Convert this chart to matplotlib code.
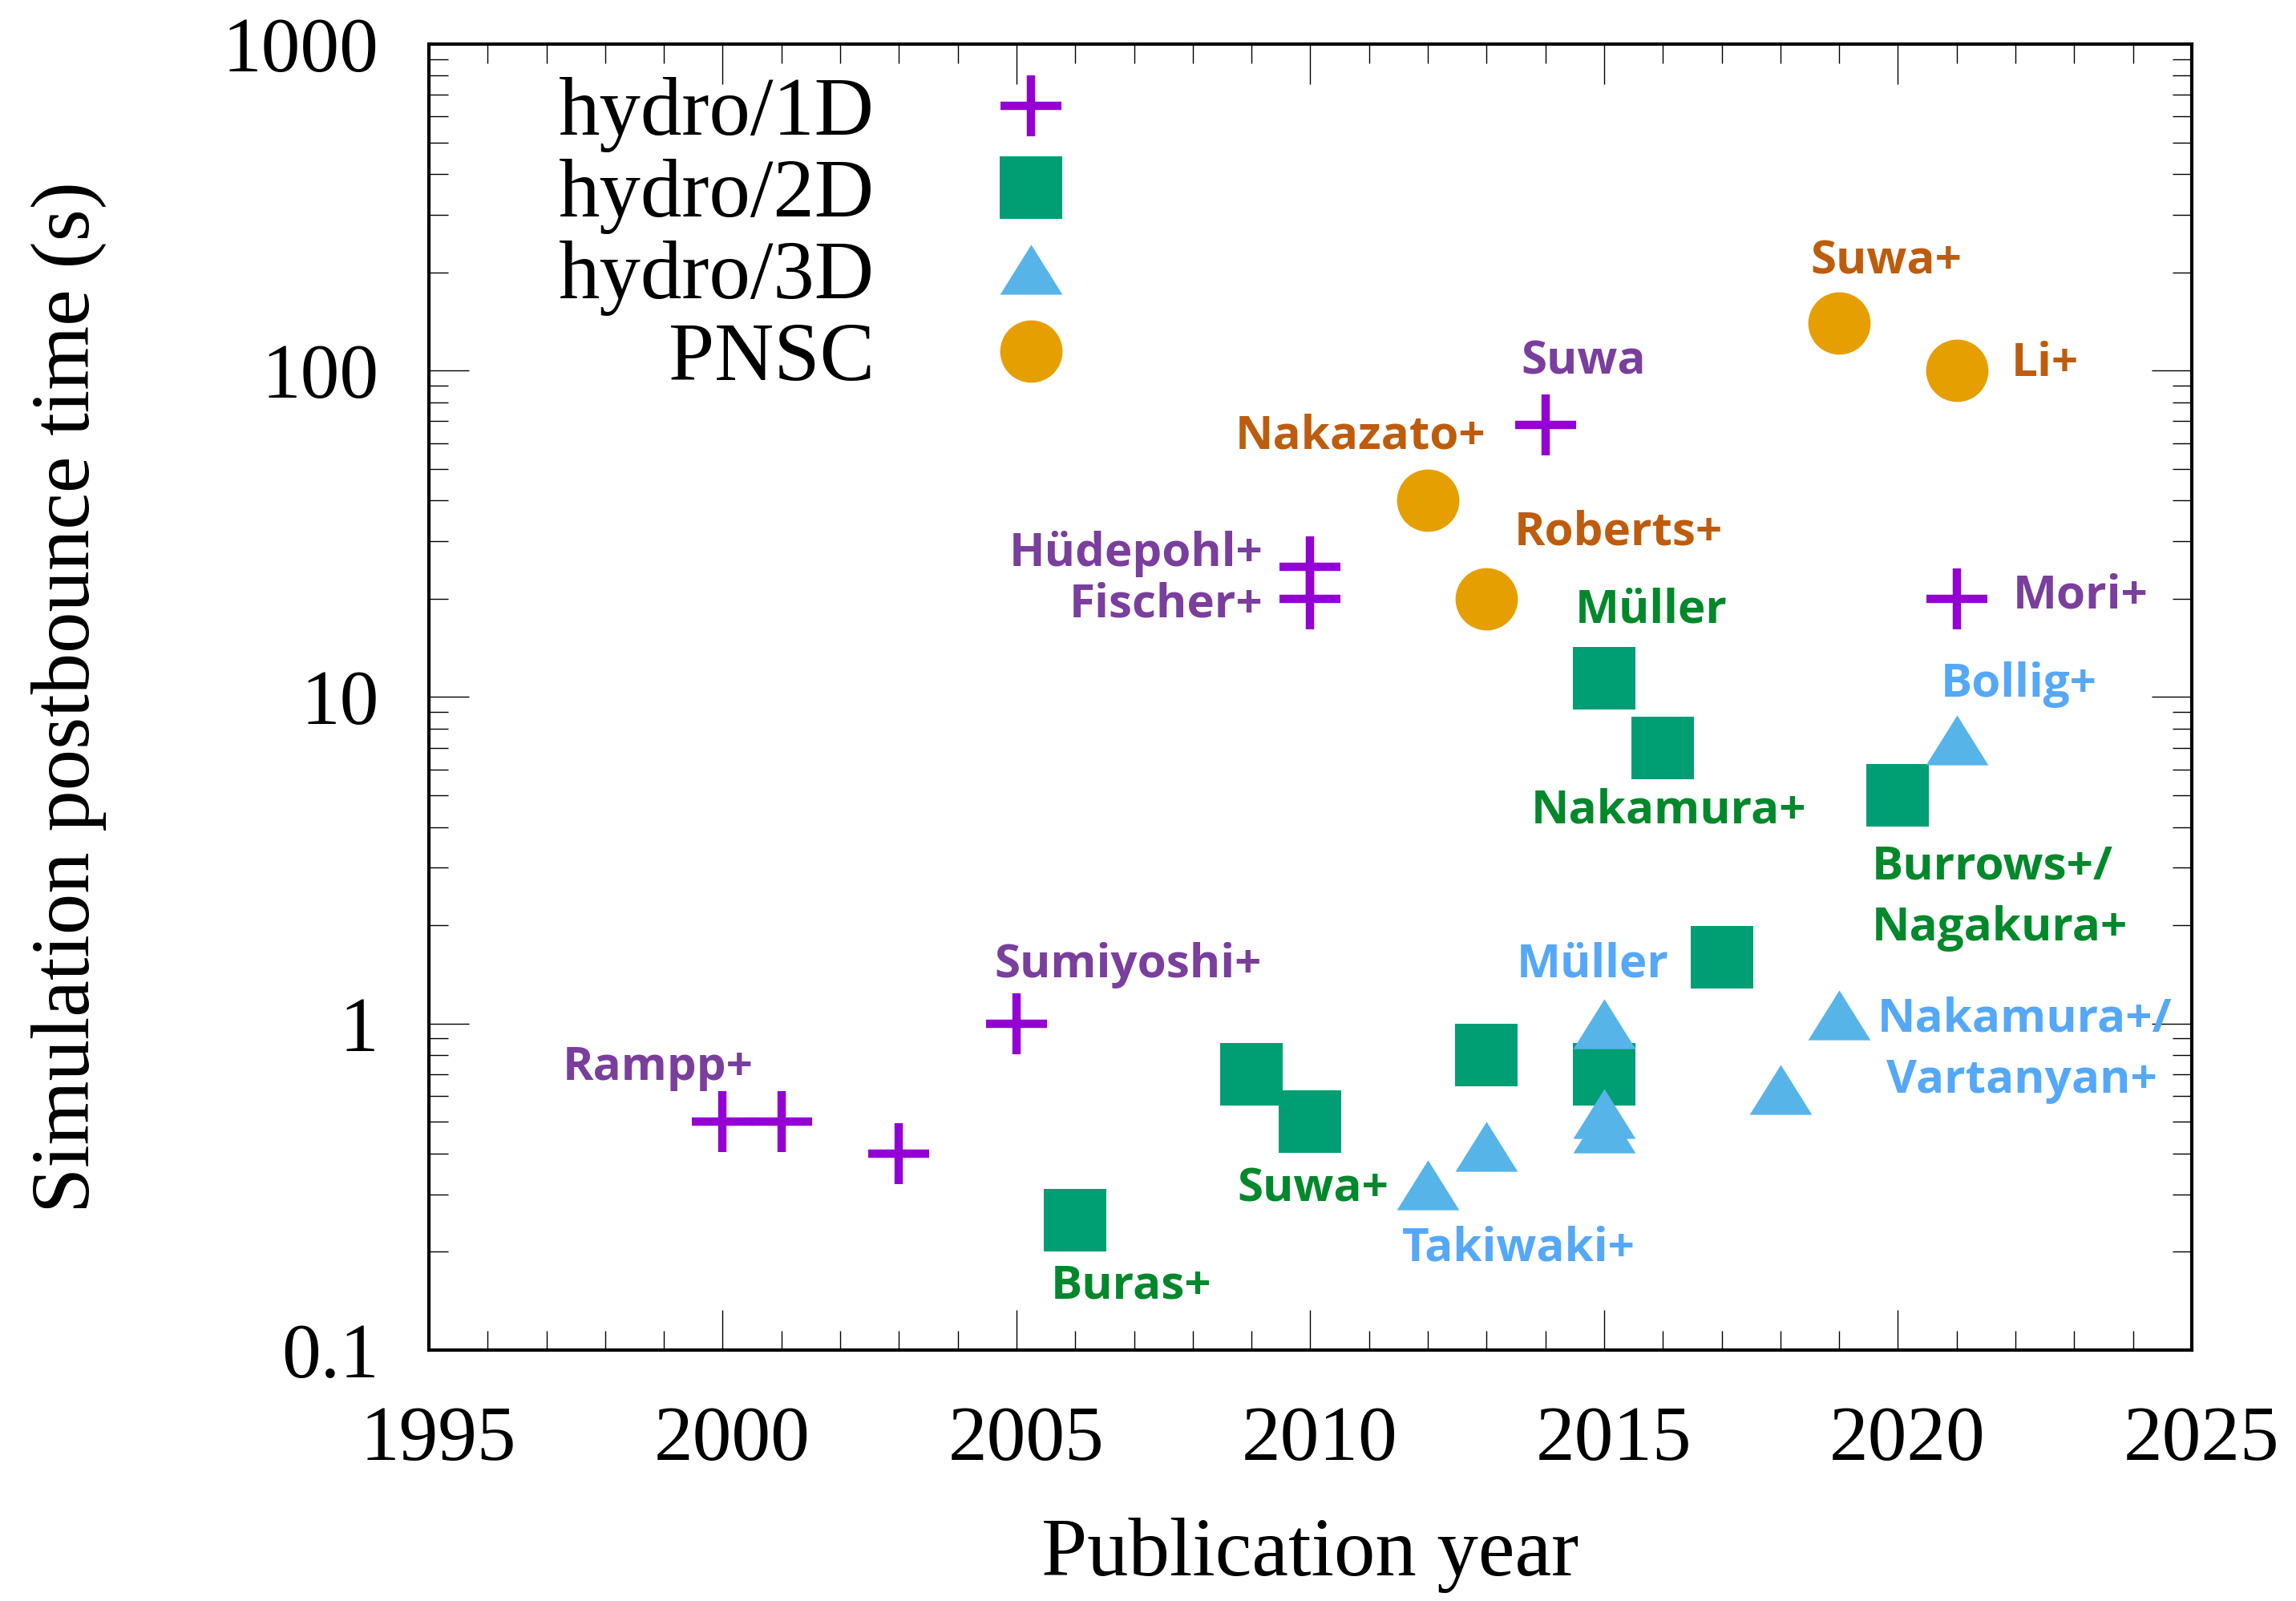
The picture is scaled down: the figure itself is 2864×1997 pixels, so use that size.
import matplotlib.pyplot as plt
from matplotlib.path import Path
from matplotlib.transforms import ScaledTranslation
from matplotlib.ticker import MultipleLocator, LogLocator, FixedLocator, FixedFormatter, NullFormatter

# data
hydro1d_year = [2000, 2001, 2003, 2005, 2010, 2010, 2014, 2021]
hydro1d_time = [0.5, 0.5, 0.4, 1.0, 25, 20, 68, 20]

hydro2d_year = [2006, 2009, 2010, 2013, 2015, 2015, 2016, 2017, 2020]
hydro2d_time = [0.25, 0.7, 0.5, 0.8, 0.7, 11.4, 7.0, 1.6, 5.0]

hydro3d_year = [2012, 2013, 2015, 2015, 2015, 2018, 2019, 2021]
hydro3d_time = [0.32, 0.42, 1.0, 0.53, 0.48, 0.63, 1.06, 7.4]

pnsc_year = [2012, 2013, 2019, 2021]
pnsc_time = [40, 20, 140, 100]

y_ticks = [0.1, 1, 10, 100, 1000]
y_tick_labels = ["0.1", "1", "10", "100", "1000"]

c_1d = "#9400D3"
c_2d = "#009E73"
c_3d = "#56B4E9"
c_pnsc = "#E69F00"
t_purple = "#7A3E9D"
t_orange = "#BE5C0E"
t_green = "#00882B"
t_blue = "#55A8F8"

# (text, x, y, colour, ha)
notes = [
    ("Rampp+", 1998.9, 0.73, t_purple, "center"),
    ("Sumiyoshi+", 2006.9, 1.51, t_purple, "center"),
    ("Hüdepohl+", 2009.2, 27.5, t_purple, "right"),
    ("Fischer+", 2009.2, 19.2, t_purple, "right"),
    ("Suwa", 2014.65, 106, t_purple, "center"),
    ("Mori+", 2023.1, 20.4, t_purple, "center"),
    ("Nakazato+", 2010.85, 62.8, t_orange, "center"),
    ("Roberts+", 2015.25, 31.8, t_orange, "center"),
    ("Suwa+", 2019.8, 215, t_orange, "center"),
    ("Li+", 2022.5, 105, t_orange, "center"),
    ("Müller", 2015.8, 18.4, t_green, "center"),
    ("Nakamura+", 2016.1, 4.47, t_green, "center"),
    ("Burrows+/", 2019.55, 3.02, t_green, "left"),
    ("Nagakura+", 2019.55, 1.96, t_green, "left"),
    ("Suwa+", 2010.05, 0.311, t_green, "center"),
    ("Buras+", 2006.95, 0.157, t_green, "center"),
    ("Bollig+", 2022.05, 10.9, t_blue, "center"),
    ("Müller", 2014.8, 1.51, t_blue, "center"),
    ("Nakamura+/", 2019.65, 1.03, t_blue, "left"),
    ("Vartanyan+", 2019.8, 0.668, t_blue, "left"),
    ("Takiwaki+", 2013.55, 0.204, t_blue, "center"),
]

serif = "Liberation Serif"
plt.rcParams["font.family"] = serif

fig = plt.figure(figsize=(28.64, 19.97), dpi=100)
ax = fig.add_axes([0.1868, 0.1567, 0.7678, 0.8158])

tri = Path([(0, 0.8), (-1, -0.8), (1, -0.8), (0, 0.8)], closed=True)

ax.plot(hydro1d_year, hydro1d_time, ls="none", marker="+", ms=55, mew=7.5,
        color=c_1d, label="hydro/1D", zorder=3)
ax.plot(hydro2d_year, hydro2d_time, ls="none", marker="s", ms=56, mew=0,
        color=c_2d, label="hydro/2D", zorder=3)
ax.plot(hydro3d_year, hydro3d_time, ls="none", marker=tri, ms=56, mew=0,
        color=c_3d, label="hydro/3D", zorder=4)
ax.plot(pnsc_year, pnsc_time, ls="none", marker="o", ms=56, mew=0,
        color=c_pnsc, label="PNSC", zorder=3)

for txt, x, y, col, ha in notes:
    ax.text(x, y, txt, color=col, ha=ha, va="center", fontsize=42,
            fontweight="bold", family="Open Sans", zorder=5)

ax.set_xlim(1995, 2025)
ax.set_yscale("log")
ax.set_ylim(0.1, 1000)

ax.xaxis.set_major_locator(MultipleLocator(5))
ax.xaxis.set_minor_locator(MultipleLocator(1))
ax.yaxis.set_major_locator(FixedLocator(y_ticks))
ax.yaxis.set_major_formatter(FixedFormatter(y_tick_labels))
ax.yaxis.set_minor_locator(LogLocator(base=10, subs=range(2, 10)))
ax.yaxis.set_minor_formatter(NullFormatter())

ax.tick_params(which="both", direction="in", top=True, right=True, width=1.0,
               labelsize=70)
ax.tick_params(which="major", length=36)
ax.tick_params(which="minor", length=17)
ax.tick_params(axis="x", which="major", pad=50)
ax.tick_params(axis="y", which="major", pad=45)
for sp in ax.spines.values():
    sp.set_linewidth(3)

# the year labels sit a touch right of their ticks in the original
shift = ScaledTranslation(0.12, 0, fig.dpi_scale_trans)
for lab in ax.get_xticklabels():
    lab.set_transform(lab.get_transform() + shift)

ax.set_xlabel("Publication year", fontsize=74)
ax.set_ylabel("Simulation postbounce time (s)", fontsize=74)
ax.xaxis.set_label_coords(0.5, -0.128)
ax.yaxis.set_label_coords(-0.183, 0.5)

ax.legend(loc="upper right", bbox_to_anchor=(0.3636, 0.975), frameon=False,
          markerfirst=False, fontsize=74, handlelength=0.95, handletextpad=1.42,
          borderpad=0, borderaxespad=0, labelspacing=0.08, numpoints=1)

fig.savefig("out.png", dpi=100)
